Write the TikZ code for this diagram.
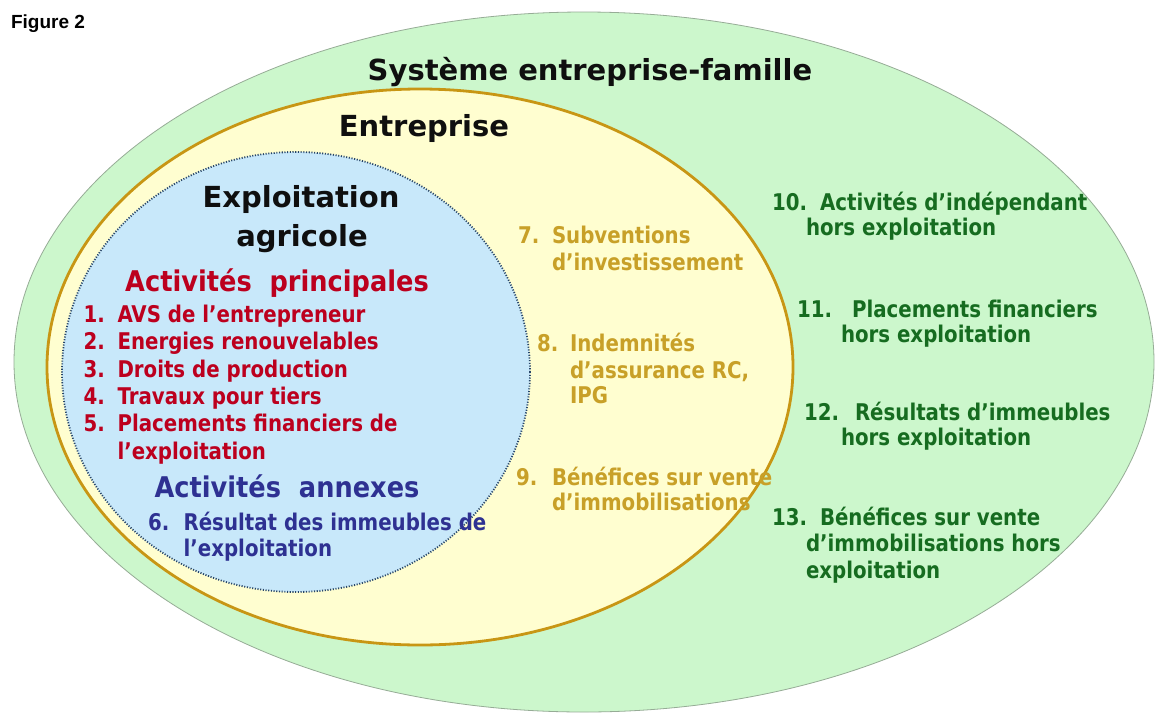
\documentclass[tikz,border=0pt]{standalone}
\usepackage{fontspec}
\newfontfamily\titlefont{DejaVu Sans}
\newfontfamily\headfont{DejaVu Sans}[FakeStretch=0.9]
\newfontfamily\itemfont{DejaVu Sans}[FakeStretch=0.86]
\newfontfamily\figfont{Liberation Sans}
\definecolor{greenfill}{RGB}{204,247,204}
\definecolor{greenedge}{RGB}{150,172,150}
\definecolor{yellowfill}{RGB}{255,254,208}
\definecolor{yellowedge}{RGB}{200,150,20}
\definecolor{bluefill}{RGB}{200,232,250}
\definecolor{blueedge}{RGB}{40,70,105}
\definecolor{redtxt}{RGB}{188,0,30}
\definecolor{bluetxt}{RGB}{46,49,146}
\definecolor{goldtxt}{RGB}{200,160,40}
\definecolor{greentxt}{RGB}{22,108,32}
\definecolor{titletxt}{RGB}{15,15,15}
\begin{document}
\begin{tikzpicture}[x=1pt,y=-1pt,
  txt/.style={inner sep=0pt, outer sep=0pt},
  ttl/.style={txt, anchor=base, text=titletxt, font=\titlefont\bfseries\fontsize{29}{34}\selectfont},
  hd/.style={txt, anchor=base, font=\headfont\bfseries\fontsize{28.5}{33}\selectfont},
  it/.style={txt, anchor=base west, font=\itemfont\bfseries\fontsize{23}{27}\selectfont},
  reditem/.style={it, text=redtxt},
  blueitem/.style={it, text=bluetxt},
  golditem/.style={it, text=goldtxt},
  greenitem/.style={it, text=greentxt}]
\useasboundingbox (0,0) rectangle (1156,718);
\fill[white] (0,0) rectangle (1156,718);
% ellipses
\draw[greenedge, line width=0.8pt, fill=greenfill] (584,362) ellipse [x radius=570pt, y radius=350pt];
\draw[yellowedge, line width=2.8pt, fill=yellowfill] (420,367) ellipse [x radius=373pt, y radius=278pt];
\fill[bluefill] (296,372) ellipse [x radius=234pt, y radius=220pt];
\draw[blueedge, line width=1.8pt, dash pattern=on 1.1pt off 1.6pt] (296,372) ellipse [x radius=234pt, y radius=220pt];
% figure label
\node[txt, anchor=base west, font=\figfont\bfseries\fontsize{19}{22}\selectfont] (fig) at (11,28) {Figure 2};
% titles
\node[ttl] (sys) at (590,80) {Système entreprise-famille};
\node[ttl] (ent) at (424,136) {Entreprise};
\node[ttl] (expl1) at (301,207) {Exploitation};
\node[ttl] (expl2) at (302,246.5) {agricole};
% headings
\node[hd, text=redtxt] (hprin) at (277,291.5) {Activités\ \ principales};
\node[hd, text=bluetxt] (hann) at (287,497) {Activités\ \ annexes};
% red items
\node[reditem] (n1) at (83.5,322) {1.};
\node[reditem] (t1) at (117.5,322) {AVS de l’entrepreneur};
\node[reditem] (n2) at (83.5,349.5) {2.};
\node[reditem] (t2) at (117.5,349.5) {Energies renouvelables};
\node[reditem] (n3) at (83.5,377) {3.};
\node[reditem] (t3) at (117.5,377) {Droits de production};
\node[reditem] (n4) at (83.5,404) {4.};
\node[reditem] (t4) at (117.5,404) {Travaux pour tiers};
\node[reditem] (n5) at (83.5,431.5) {5.};
\node[reditem] (t5a) at (117.5,431.5) {Placements financiers de};
\node[reditem] (t5b) at (117.5,459) {l’exploitation};
% blue item
\node[blueitem] (n6) at (148,530) {6.};
\node[blueitem] (t6a) at (183.6,530) {Résultat des immeubles de};
\node[blueitem] (t6b) at (183.6,556) {l’exploitation};
% gold items
\node[golditem] (n7) at (518,243) {7.};
\node[golditem] (t7a) at (552,243) {Subventions};
\node[golditem] (t7b) at (552,270) {d’investissement};
\node[golditem] (n8) at (537,351) {8.};
\node[golditem] (t8a) at (570,351) {Indemnités};
\node[golditem] (t8b) at (570,378) {d’assurance RC,};
\node[golditem] (t8c) at (570,403) {IPG};
\node[golditem] (n9) at (516,485) {9.};
\node[golditem] (t9a) at (552,485) {Bénéfices sur vente};
\node[golditem] (t9b) at (552,510) {d’immobilisations};
% green items
\node[greenitem] (n10) at (772,210) {10.};
\node[greenitem] (t10a) at (820,210) {Activités d’indépendant};
\node[greenitem] (t10b) at (806,235) {hors exploitation};
\node[greenitem] (n11) at (797,317) {11.};
\node[greenitem] (t11a) at (852,317) {Placements financiers};
\node[greenitem] (t11b) at (841,342) {hors exploitation};
\node[greenitem] (n12) at (804,420) {12.};
\node[greenitem] (t12a) at (855,420) {Résultats d’immeubles};
\node[greenitem] (t12b) at (841,445.5) {hors exploitation};
\node[greenitem] (n13) at (772,525.5) {13.};
\node[greenitem] (t13a) at (820,525.5) {Bénéfices sur vente};
\node[greenitem] (t13b) at (806,551.5) {d’immobilisations hors};
\node[greenitem] (t13c) at (806,578) {exploitation};
\end{tikzpicture}
\end{document}
